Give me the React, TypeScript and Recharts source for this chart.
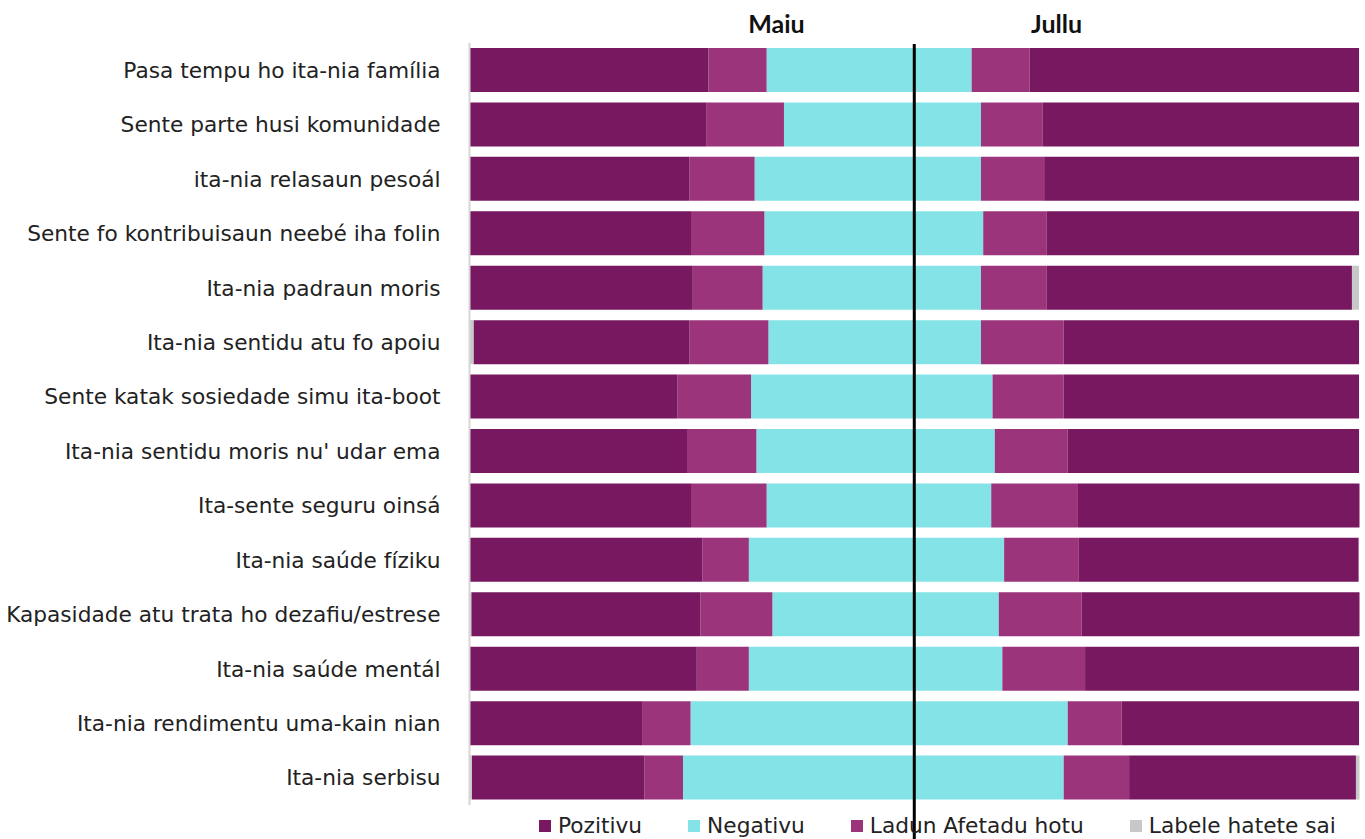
import React from 'react';
import { BarChart, Bar, XAxis, YAxis, ReferenceLine, Legend } from 'recharts';

const categories = [
  'Pasa tempu ho ita-nia família',
  'Sente parte husi komunidade',
  'ita-nia relasaun pesoál',
  'Sente fo kontribuisaun neebé iha folin',
  'Ita-nia padraun moris',
  'Ita-nia sentidu atu fo apoiu',
  'Sente katak sosiedade simu ita-boot',
  "Ita-nia sentidu moris nu' udar ema",
  'Ita-sente seguru oinsá',
  'Ita-nia saúde fíziku',
  'Kapasidade atu trata ho dezafiu/estrese',
  'Ita-nia saúde mentál',
  'Ita-nia rendimentu uma-kain nian',
  'Ita-nia serbisu',
];

// Maiu (left half)
const maiuPozitivu = [53.7, 53.2, 49.3, 49.8, 50.2, 48.5, 46.7, 48.9, 49.8, 52.4, 51.5, 51.1, 38.8, 38.8];
const maiuLadun = [13.1, 17.5, 14.7, 16.5, 15.7, 17.8, 16.6, 15.6, 17.0, 10.4, 16.2, 11.7, 10.9, 8.7];
const maiuNegativu = [33.2, 29.3, 35.9, 33.7, 34.1, 32.8, 36.7, 35.5, 33.2, 37.2, 31.9, 37.2, 50.3, 52.0];
const maiuLabele = [0, 0, 0, 0, 0, 0.9, 0, 0, 0, 0, 0.4, 0, 0, 0.4];

// Jullu (right half)
const julluPozitivu = [74.1, 71.2, 70.8, 70.2, 68.6, 66.4, 66.4, 65.5, 63.3, 62.9, 62.5, 61.6, 53.4, 51.0];
const julluLadun = [13.0, 13.8, 14.2, 14.3, 14.8, 18.6, 16.0, 16.4, 19.5, 16.8, 18.6, 18.6, 12.1, 14.7];
const julluNegativu = [12.9, 15.0, 15.0, 15.5, 15.0, 15.0, 17.6, 18.1, 17.3, 20.2, 19.0, 19.8, 34.5, 33.6];
const julluLabele = [0, 0, 0, 0, 1.6, 0, 0, 0, 0, 0, 0, 0, 0, 0.8];

const periodLabels = ['Maiu', 'Jullu'];
const periodPositions = [-31, 32];

const seriesNames = ['Pozitivu', 'Negativu', 'Ladun Afetadu hotu', 'Labele hatete sai'];
const seriesColors = ['#771861', '#84E3E6', '#9B347B', '#C8C8C8'];

const POZ = seriesColors[0];
const NEG = seriesColors[1];
const LAD = seriesColors[2];
const LAB = seriesColors[3];

const data = categories.map((name, i) => ({
  name,
  mNeg: -maiuNegativu[i],
  mLad: -maiuLadun[i],
  mPoz: -maiuPozitivu[i],
  mLab: -maiuLabele[i],
  jNeg: julluNegativu[i],
  jLad: julluLadun[i],
  jPoz: julluPozitivu[i],
  jLab: julluLabele[i],
}));

const FONT = '"DejaVu Sans", sans-serif';
const FS = 21.7;

const renderLegend = () => (
  <div style={{ height: 34, position: 'relative', fontFamily: FONT, fontSize: FS, color: '#222', whiteSpace: 'nowrap' }}>
    <div style={{ display: 'flex', alignItems: 'center', paddingLeft: 539, paddingTop: 10, lineHeight: '22px' }}>
      {seriesNames.map((n, i) => (
        <div key={n} style={{ display: 'flex', alignItems: 'center', marginRight: 46, flexShrink: 0 }}>
          <span style={{ display: 'inline-block', width: 12, height: 12, background: seriesColors[i], marginRight: 7 }} />
          <span>{n}</span>
        </div>
      ))}
    </div>
  </div>
);

const CenterLine = (p: any) => {
  const top = Math.min(p.y1, p.y2);
  const bottom = Math.max(p.y1, p.y2);
  return <line x1={p.x1} y1={top + 1} x2={p.x2} y2={bottom + 34} stroke="#000" strokeWidth={3} />;
};

export default function App() {
  return (
    <div style={{ position: 'absolute', left: 0, top: 0, width: 1365, height: 839, background: '#fff' }}>
      <BarChart
        width={1365}
        height={839}
        data={data}
        layout="vertical"
        stackOffset="sign"
        barSize={44}
        margin={{ top: 43, right: 5.5, bottom: 0, left: 0 }}
      >
        <XAxis type="number" domain={[-100, 100]} hide />
        <YAxis
          type="category"
          dataKey="name"
          width={469.5}
          interval={0}
          tickLine={false}
          tickSize={0}
          tickMargin={29}
          axisLine={{ stroke: '#D6D6D6', strokeWidth: 2 }}
          tick={{ fontFamily: FONT, fontSize: FS, fill: '#222' }}
        />
        <Bar dataKey="mNeg" stackId="s" fill={NEG} isAnimationActive={false} />
        <Bar dataKey="jNeg" stackId="s" fill={NEG} isAnimationActive={false} />
        <Bar dataKey="mLad" stackId="s" fill={LAD} isAnimationActive={false} />
        <Bar dataKey="jLad" stackId="s" fill={LAD} isAnimationActive={false} />
        <Bar dataKey="mPoz" stackId="s" fill={POZ} isAnimationActive={false} />
        <Bar dataKey="jPoz" stackId="s" fill={POZ} isAnimationActive={false} />
        <Bar dataKey="mLab" stackId="s" fill={LAB} isAnimationActive={false} />
        <Bar dataKey="jLab" stackId="s" fill={LAB} isAnimationActive={false} />
        {periodLabels.map((lbl, i) => (
          <ReferenceLine
            key={lbl}
            x={periodPositions[i]}
            stroke="none"
            label={{
              value: lbl,
              position: 'top',
              offset: 10,
              fill: '#111',
              fontSize: 25,
              fontWeight: 700,
              fontFamily: 'Lato, sans-serif',
            }}
          />
        ))}
        <ReferenceLine x={0} shape={CenterLine} />
        <Legend verticalAlign="bottom" content={renderLegend} />
      </BarChart>
    </div>
  );
}
